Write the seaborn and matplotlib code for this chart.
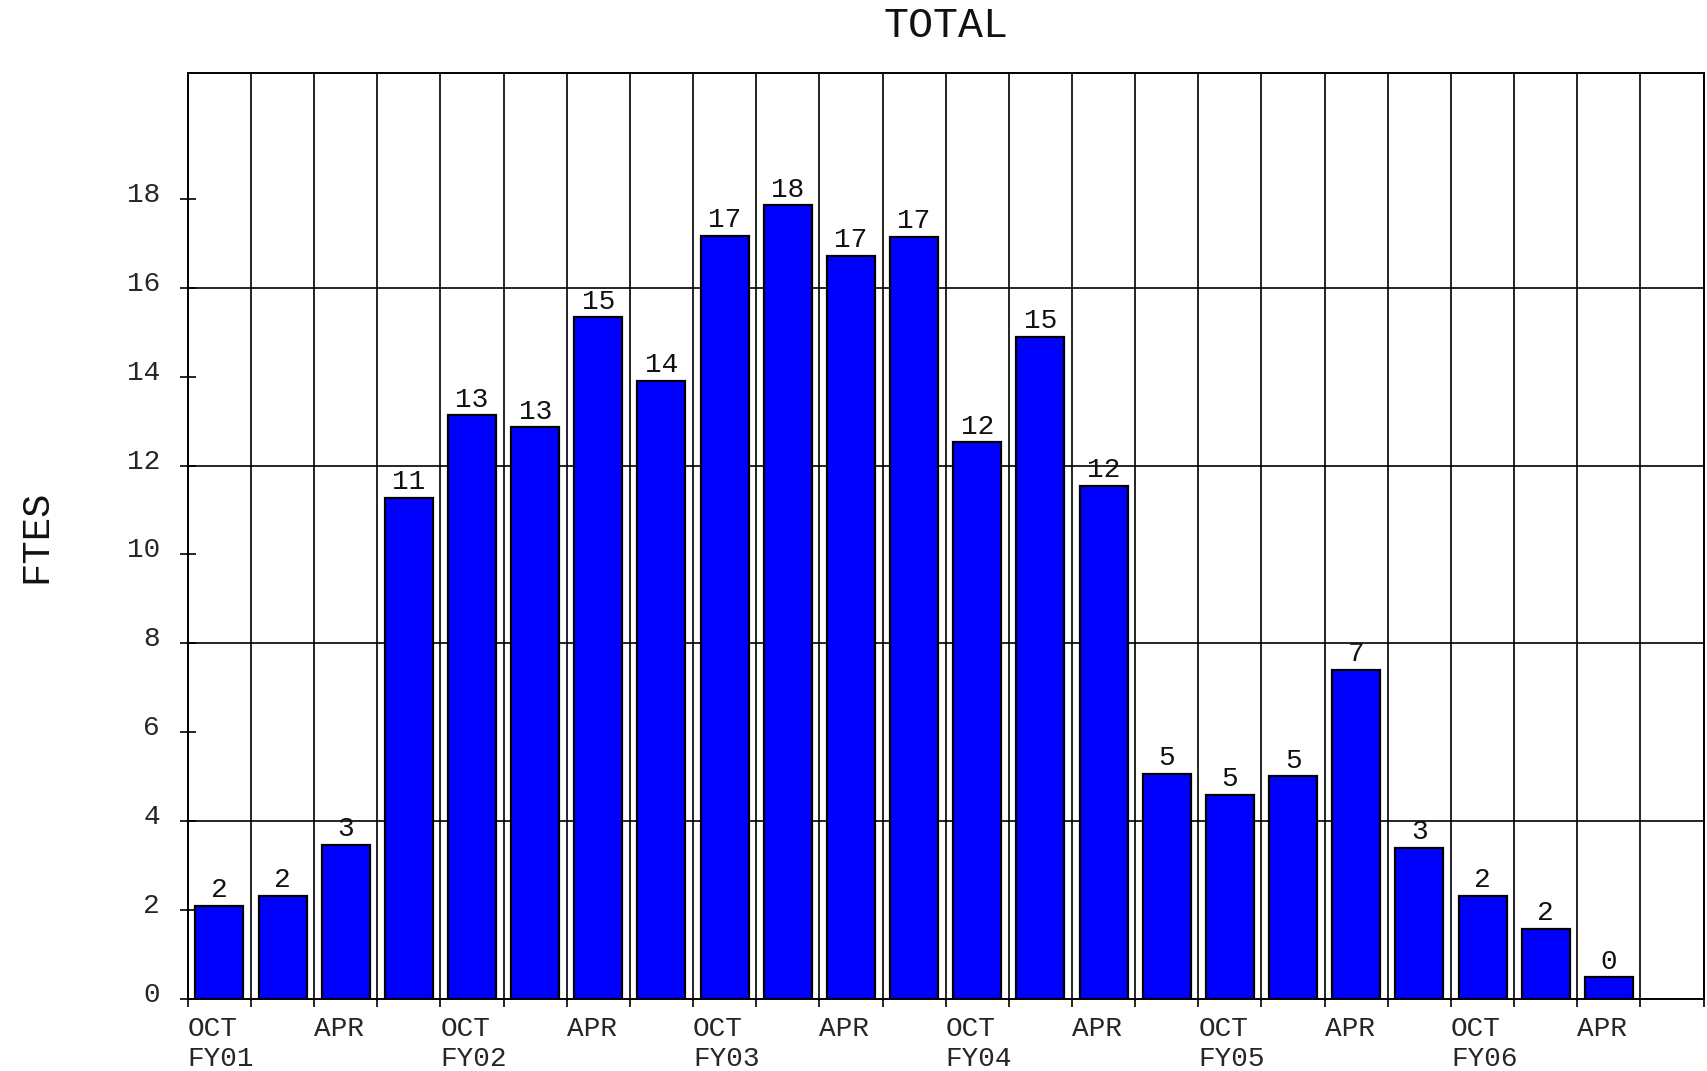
import numpy as np
import pandas as pd
import matplotlib
matplotlib.use("Agg")
import matplotlib.pyplot as plt
import matplotlib.transforms as mtransforms
import seaborn as sns

# quarterly FTE totals, OCT FY01 .. APR FY06
periods = ["OCT FY01", "JAN FY01", "APR FY01", "JUL FY01",
           "OCT FY02", "JAN FY02", "APR FY02", "JUL FY02",
           "OCT FY03", "JAN FY03", "APR FY03", "JUL FY03",
           "OCT FY04", "JAN FY04", "APR FY04", "JUL FY04",
           "OCT FY05", "JAN FY05", "APR FY05", "JUL FY05",
           "OCT FY06", "JAN FY06", "APR FY06"]
ftes = [2.10, 2.32, 3.47, 11.27, 13.13, 12.86, 15.33, 13.91,
        17.16, 17.85, 16.72, 17.14, 12.52, 14.89, 11.54, 5.06,
        4.60, 5.01, 7.41, 3.40, 2.32, 1.59, 0.49]
bar_labels = ["2", "2", "3", "11", "13", "13", "15", "14",
              "17", "18", "17", "17", "12", "15", "12", "5",
              "5", "5", "7", "3", "2", "2", "0"]

# x axis labels sit on the cell boundaries (24 cells, last one empty)
x_tick_labels = ["OCT\nFY01", "", "APR", "", "OCT\nFY02", "", "APR", "",
                 "OCT\nFY03", "", "APR", "", "OCT\nFY04", "", "APR", "",
                 "OCT\nFY05", "", "APR", "", "OCT\nFY06", "", "APR", "", ""]
y_ticks = [0, 2, 4, 6, 8, 10, 12, 14, 16, 18]
grid_levels = [4, 8, 12, 16]

df = pd.DataFrame({"period": periods, "ftes": ftes})

sns.set_theme(style="white")
plt.rcParams["font.family"] = ["Liberation Mono", "DejaVu Sans Mono"]

fig = plt.figure(figsize=(17.07, 10.71), dpi=100)
ax = fig.add_axes([0.110, 0.067, 0.888, 0.865])

sns.barplot(data=df, x="period", y="ftes", color="#0000ff", saturation=1,
            width=0.76, edgecolor="black", linewidth=1.6, ax=ax)

ax.bar_label(ax.containers[0], labels=bar_labels, padding=2,
             fontsize=20, color="#111111")

n_cells = len(x_tick_labels) - 1
ax.set_xlim(-0.5, n_cells - 0.5)
ax.set_ylim(0, 20.83)

ax.set_xticks(np.arange(len(x_tick_labels)) - 0.5)
ax.set_xticklabels(x_tick_labels, ha="left", fontsize=20, linespacing=1.2)
ax.set_yticks(y_ticks)
ax.set_yticklabels([str(v) for v in y_ticks], fontsize=20)

ax.tick_params(axis="x", direction="out", length=6, width=1.2, pad=6,
               color="black", bottom=True)
ax.tick_params(axis="y", direction="inout", length=12, width=1.2, pad=14,
               color="black", left=True)
offset = mtransforms.ScaledTranslation(0, 7 / 100, fig.dpi_scale_trans)
for lab in ax.get_yticklabels():
    lab.set_transform(lab.get_transform() + offset)

ax.set_axisbelow(True)
ax.grid(axis="x", color="black", linewidth=1.2)
ax.grid(axis="y", visible=False)
for lvl in grid_levels:
    ax.axhline(lvl, color="black", linewidth=1.2, zorder=0.5)

for side in ["left", "right", "top", "bottom"]:
    ax.spines[side].set_visible(True)
    ax.spines[side].set_color("black")
    ax.spines[side].set_linewidth(1.4)

ax.set_xlabel("")
ax.set_ylabel("FTES", fontsize=28, color="#111111")
ax.yaxis.set_label_coords(-0.088, 0.5)
ax.set_title("TOTAL", fontsize=30, pad=26, color="#111111")

fig.savefig("out.png", dpi=100, facecolor="white")
plt.close(fig)
